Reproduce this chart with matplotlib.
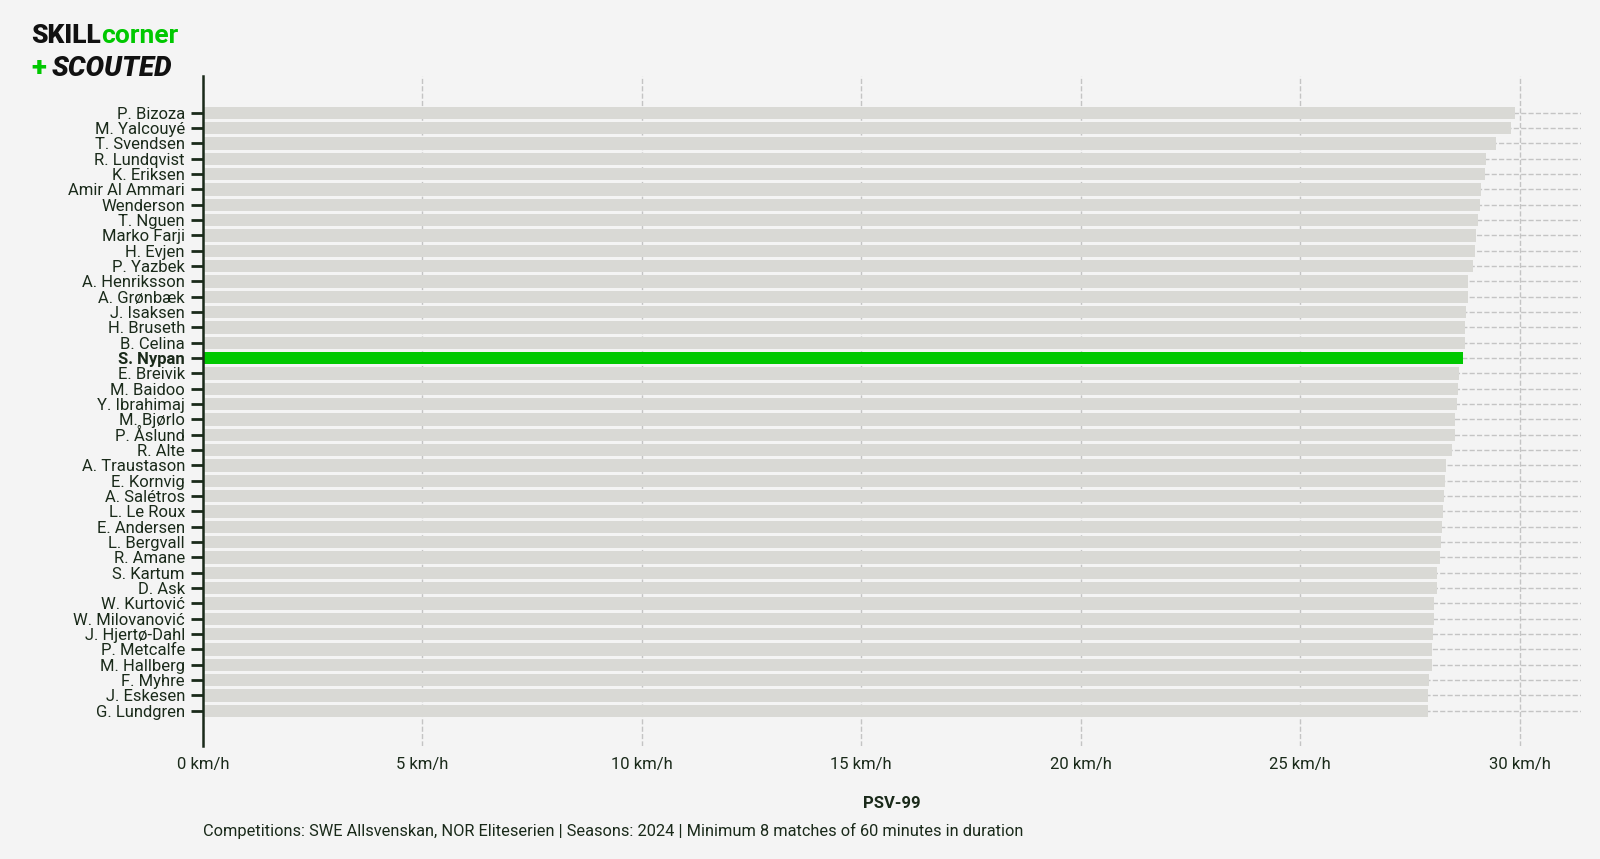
import matplotlib.pyplot as plt

players = ['P. Bizoza', 'M. Yalcouyé', 'T. Svendsen', 'R. Lundqvist', 'K. Eriksen',
           'Amir Al Ammari', 'Wenderson', 'T. Nguen', 'Marko Farji', 'H. Evjen',
           'P. Yazbek', 'A. Henriksson', 'A. Grønbæk', 'J. Isaksen', 'H. Bruseth',
           'B. Celina', 'S. Nypan', 'E. Breivik', 'M. Baidoo', 'Y. Ibrahimaj',
           'M. Bjørlo', 'P. Åslund', 'R. Alte', 'A. Traustason', 'E. Kornvig',
           'A. Salétros', 'L. Le Roux', 'E. Andersen', 'L. Bergvall', 'R. Amane',
           'S. Kartum', 'D. Ask', 'W. Kurtović', 'W. Milovanović', 'J. Hjertø-Dahl',
           'P. Metcalfe', 'M. Hallberg', 'F. Myhre', 'J. Eskesen', 'G. Lundgren']
psv99 = [29.90, 29.80, 29.46, 29.24, 29.22, 29.11, 29.09, 29.06, 29.00, 28.98,
         28.95, 28.83, 28.82, 28.78, 28.76, 28.76, 28.71, 28.61, 28.60, 28.58,
         28.54, 28.53, 28.47, 28.33, 28.31, 28.28, 28.25, 28.23, 28.22, 28.18,
         28.12, 28.12, 28.06, 28.06, 28.03, 28.00, 28.00, 27.93, 27.91, 27.91]
highlight = 'S. Nypan'
xticks = [0, 5, 10, 15, 20, 25, 30]

bg = '#f4f4f4'
grey_bar = '#d9d9d5'
green = '#00c800'
dark = '#1a2a1a'

plt.rcParams['font.family'] = ['Roboto', 'DejaVu Sans']

fig = plt.figure(figsize=(16, 8.59), dpi=100, facecolor=bg)
ax = fig.add_axes([203 / 1600, 1 - 746 / 859, (1581 - 203) / 1600, (746 - 76) / 859])
ax.set_facecolor(bg)

ypos = list(range(len(players)))
colors = [green if p == highlight else grey_bar for p in players]
ax.barh(ypos, psv99, height=0.8, color=colors, zorder=3)

ax.set_xlim(0, 31.4)
ax.set_ylim(41.3, -2.4)
ax.set_xticks(xticks)
ax.set_xticklabels([f'{t} km/h' for t in xticks], fontsize=12, color=dark)
ax.set_yticks(ypos)
ax.set_yticklabels(players, fontsize=12, color=dark)
for lbl in ax.get_yticklabels():
    if lbl.get_text() == highlight:
        lbl.set_fontweight('bold')

ax.tick_params(axis='y', length=9, width=2, color=dark, pad=4)
ax.tick_params(axis='x', length=0, pad=8)
ax.grid(True, axis='both', linestyle='--', color='#c4c4c4', linewidth=1, zorder=0)
for s in ['top', 'right', 'bottom']:
    ax.spines[s].set_visible(False)
ax.spines['left'].set_color(dark)
ax.spines['left'].set_linewidth(1.8)
ax.spines['left'].set_zorder(4)

ax.set_xlabel('PSV-99', fontsize=12, fontweight='bold', color=dark, labelpad=17)

fig.text(203 / 1600, 1 - 831 / 859, 'Competitions: SWE Allsvenskan, NOR Eliteserien | Seasons: 2024 | '
         'Minimum 8 matches of 60 minutes in duration', fontsize=11.8, color=dark, va='center')

# logo
t1 = fig.text(31 / 1600, 1 - 36 / 859, 'SKILL', fontsize=19, fontweight='heavy', color='#111111',
              va='center', family='Roboto')
fig.canvas.draw()
bb = t1.get_window_extent()
fig.text(bb.x1 / 1600, 1 - 36 / 859, 'corner', fontsize=19, fontweight='bold', color=green,
         va='center', family='Roboto')
fig.text(31 / 1600, 1 - 68 / 859, '+', fontsize=20, fontweight='heavy', color=green,
         va='center', family='Roboto')
fig.text(52 / 1600, 1 - 68 / 859, 'SCOUTED', fontsize=20, fontweight='heavy', style='italic',
         color='#111111', va='center', family='Roboto')

fig.savefig('out.png', facecolor=bg)
